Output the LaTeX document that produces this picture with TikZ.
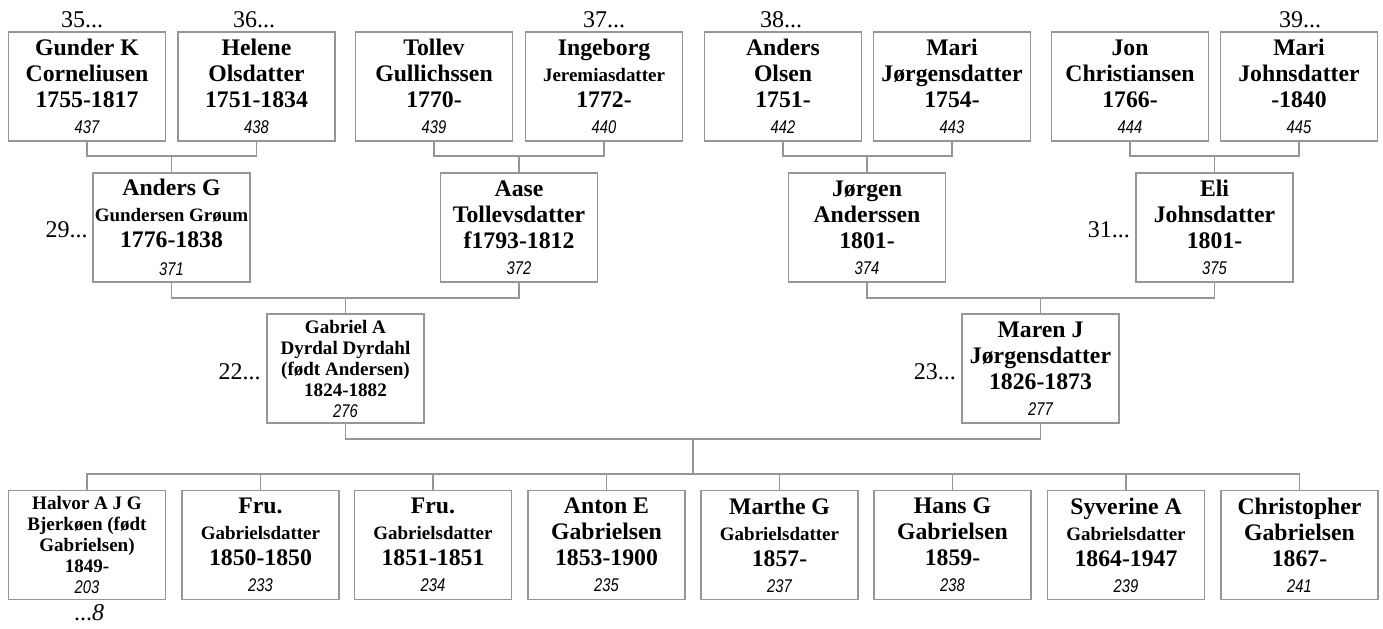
\documentclass[tikz,border=0pt]{standalone}
\usepackage{fontspec}
\setmainfont{Liberation Serif}
\newfontfamily\subname[Scale=0.8]{Liberation Serif}
\newfontfamily\idfont[FakeStretch=0.8]{Liberation Sans}
\newcommand{\idn}[1]{{\idfont\fontsize{13.8}{16}\selectfont\mdseries\itshape #1}}
\definecolor{boxgray}{RGB}{150,150,150}

\begin{document}
\begin{tikzpicture}[x=0.75pt,y=-0.75pt,
  person/.style={draw=boxgray, line width=1pt, fill=white, minimum width=117.75pt, minimum height=81.75pt, inner sep=0pt, align=center, font=\fontsize{17.8}{19.5}\selectfont\bfseries},
  smallperson/.style={person, font=\fontsize{14.3}{15.75}\selectfont\bfseries},
  link/.style={draw=boxgray, line width=1pt},
  gen/.style={inner sep=0pt, font=\fontsize{18}{20}\selectfont}]
\useasboundingbox (0,0) rectangle (1383,628);
% great-grandparents
\node[person] (p437) at (87,86.5) {Gunder K\\Corneliusen\\1755-1817\\\idn{437}};
\node[person] (p438) at (256.5,86.5) {Helene\\Olsdatter\\1751-1834\\\idn{438}};
\node[person] (p439) at (434,86.5) {Tollev\\Gullichssen\\1770-\\\idn{439}};
\node[person] (p440) at (604,86.5) {Ingeborg\\{\subname Jeremiasdatter}\\1772-\\\idn{440}};
\node[person] (p442) at (783,86.5) {Anders\\Olsen\\1751-\\\idn{442}};
\node[person] (p443) at (952,86.5) {Mari\\Jørgensdatter\\1754-\\\idn{443}};
\node[person] (p444) at (1130,86.5) {Jon\\Christiansen\\1766-\\\idn{444}};
\node[person] (p445) at (1299,86.5) {Mari\\Johnsdatter\\-1840\\\idn{445}};
% grandparents
\node[person] (p371) at (171.5,227.5) {Anders G\\{\subname Gundersen Grøum}\\1776-1838\\[2pt]\idn{371}};
\node[person] (p372) at (519,227.5) {Aase\\Tollevsdatter\\f1793-1812\\\idn{372}};
\node[person] (p374) at (867,227.5) {Jørgen\\Anderssen\\1801-\\\idn{374}};
\node[person] (p375) at (1214.5,227.5) {Eli\\Johnsdatter\\1801-\\\idn{375}};
% parents
\node[smallperson] (p276) at (345.5,368.5) {Gabriel A\\Dyrdal Dyrdahl\\(født Andersen)\\1824-1882\\\idn{276}};
\node[person] (p277) at (1040.5,368.5) {Maren J\\Jørgensdatter\\1826-1873\\\idn{277}};
% children
\node[smallperson] (p203) at (87,545) {Halvor A J G\\Bjerkøen (født\\Gabrielsen)\\1849-\\\idn{203}};
\node[person] (p233) at (260.5,545) {Fru.\\{\subname Gabrielsdatter}\\1850-1850\\\idn{233}};
\node[person] (p234) at (433,545) {Fru.\\{\subname Gabrielsdatter}\\1851-1851\\\idn{234}};
\node[person] (p235) at (606.5,545) {Anton E\\Gabrielsen\\1853-1900\\\idn{235}};
\node[person] (p237) at (779.5,545) {Marthe G\\{\subname Gabrielsdatter}\\1857-\\\idn{237}};
\node[person] (p238) at (952.5,545) {Hans G\\Gabrielsen\\1859-\\\idn{238}};
\node[person] (p239) at (1126,545) {Syverine A\\{\subname Gabrielsdatter}\\1864-1947\\\idn{239}};
\node[person] (p241) at (1299.5,545) {Christopher\\Gabrielsen\\1867-\\\idn{241}};
% generation numbers
\node[gen] (g35) at (82,20) {35...};
\node[gen] (g36) at (254,20) {36...};
\node[gen] (g37) at (604,20) {37...};
\node[gen] (g38) at (781,20) {38...};
\node[gen] (g39) at (1300,20) {39...};
\node[gen, anchor=east] (g29) at (88,230) {29...};
\node[gen, anchor=east] (g31) at (1130,230) {31...};
\node[gen, anchor=east] (g22) at (261,372) {22...};
\node[gen, anchor=east] (g23) at (956,372) {23...};
\node[gen] (g8) at (89,613) {...\textit{8}};
% family links
\coordinate (f371) at (171.5,156);
\coordinate (f372) at (519,156);
\coordinate (f374) at (867,156);
\coordinate (f375) at (1214.5,156);
\coordinate (f276) at (345.5,298);
\coordinate (f277) at (1040.5,298);
\coordinate (f22) at (693,439);
\coordinate (kids) at (693,474);
\draw[link] (p437.south) |- (f371) -| (p438.south);
\draw[link] (p439.south) |- (f372) -| (p440.south);
\draw[link] (p442.south) |- (f374) -| (p443.south);
\draw[link] (p444.south) |- (f375) -| (p445.south);
\draw[link] (f371) -- (p371.north);
\draw[link] (f372) -- (p372.north);
\draw[link] (f374) -- (p374.north);
\draw[link] (f375) -- (p375.north);
\draw[link] (p371.south) |- (f276) -| (p372.south);
\draw[link] (p374.south) |- (f277) -| (p375.south);
\draw[link] (f276) -- (p276.north);
\draw[link] (f277) -- (p277.north);
\draw[link] (p276.south) |- (f22) -| (p277.south);
\draw[link] (f22) -- (kids);
\foreach \k in {203,233,234,235,237,238,239,241}
  \draw[link] (p\k.north) |- (kids);
\end{tikzpicture}
\end{document}
